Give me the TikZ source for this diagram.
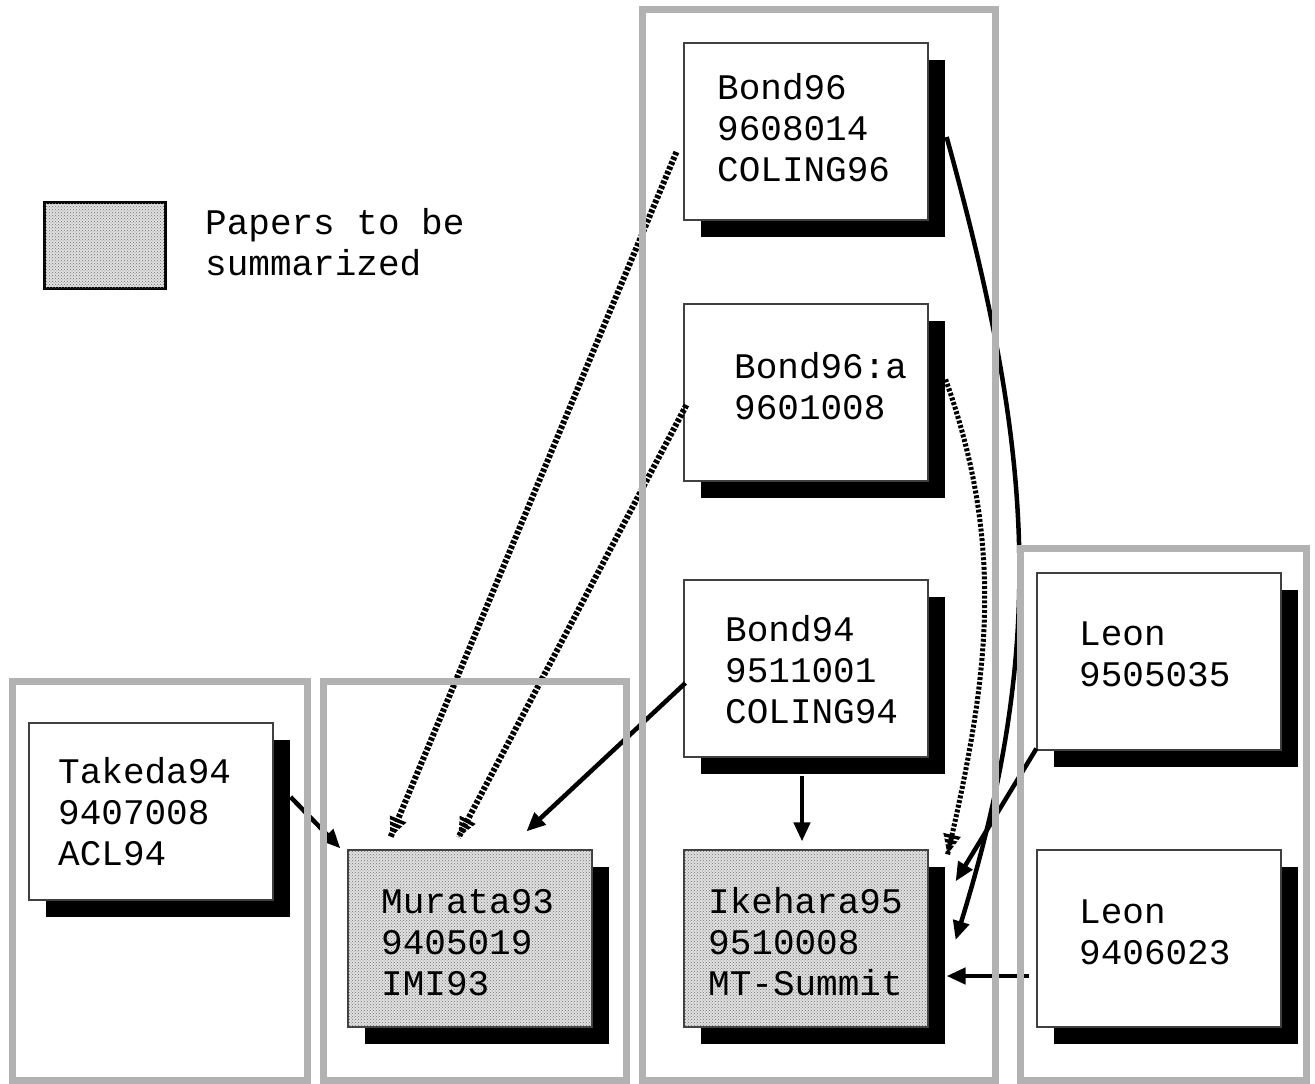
\documentclass[tikz,border=0pt]{standalone}
\usepackage{fontspec}
\newfontfamily\papermono{Liberation Mono}
\usetikzlibrary{arrows.meta,calc,shadows,patterns}

% left-aligned stack of lines whose baseline is the first line
\newcommand\paperlines[1]{\begin{tabular}[t]{@{}l@{}}#1\end{tabular}}

% widened striped head at the end of a striped connector
% #1: point the head points away from, #2: tip point
\newcommand\stripedtip[2]{%
  \begin{scope}
    \coordinate (tipbase) at ($(#2)!20pt!(#1)$);
    \clip (#2) -- ($(tipbase)!9pt!90:(#2)$) -- ($(tipbase)!9pt!-90:(#2)$) -- cycle;
    \draw[stripe, line width=22pt] (tipbase) -- (#2);
  \end{scope}}

\tikzset{
  paper/.style={rectangle, draw=black!75, line width=1.2pt, fill=white,
    minimum width=244pt, minimum height=177pt, inner sep=0pt,
    drop shadow={shadow xshift=17pt, shadow yshift=-17pt, fill=black, opacity=1}},
  summarized/.style={paper, fill=black!12,
    postaction={pattern=crosshatch dots, pattern color=black!55}},
  papertext/.style={anchor=base west, inner sep=0pt,
    font=\papermono\fontsize{36}{41}\selectfont},
  groupframe/.style={draw=black!30, line width=7pt},
  solidarrow/.style={line width=4.5pt, -{Triangle[length=19pt,width=16pt]}},
  stripe/.style={line width=6pt, dash pattern=on 3.4pt off 1.8pt},
  rope/.style={line width=5pt, dash pattern=on 3pt off 1.8pt},
}

\begin{document}
\begin{tikzpicture}[x=1pt,y=-1pt]
\useasboundingbox (0,0) rectangle (1315,1084);

% legend
\node[rectangle, draw=black, line width=3pt, fill=black!12,
      postaction={pattern=crosshatch dots, pattern color=black!55},
      minimum width=121pt, minimum height=86pt, inner sep=0pt] (legend) at (104.5,245) {};
\node[papertext] (legend-t) at (205,234) {\paperlines{Papers to be\\summarized}};

% papers
\node[paper] (takeda) at (151,811.5) {};
\node[papertext] (takeda-t) at (58,783) {\paperlines{Takeda94\\9407008\\ACL94}};

\node[summarized] (murata) at (470,938.5) {};
\node[papertext] (murata-t) at (381,913) {\paperlines{Murata93\\9405019\\IMI93}};

\node[paper] (bond96) at (806,131.5) {};
\node[papertext] (bond96-t) at (717,99) {\paperlines{Bond96\\9608014\\COLING96}};

\node[paper] (bond96a) at (806,392.5) {};
\node[papertext] (bond96a-t) at (734,378) {\paperlines{Bond96:a\\9601008}};

\node[paper] (bond94) at (806,668.5) {};
\node[papertext] (bond94-t) at (725,641) {\paperlines{Bond94\\9511001\\COLING94}};

\node[summarized] (ikehara) at (806,938.5) {};
\node[papertext] (ikehara-t) at (708,913) {\paperlines{Ikehara95\\9510008\\MT-Summit}};

\node[paper] (leon1) at (1159,661.5) {};
\node[papertext] (leon1-t) at (1079,645) {\paperlines{Leon\\9505035}};

\node[paper] (leon2) at (1159,938.5) {};
\node[papertext] (leon2-t) at (1079,923) {\paperlines{Leon\\9406023}};

% connector end points
\coordinate (b96-out)   at ($(bond96.west)+(-7,20.5)$);
\coordinate (mur-in1)   at ($(murata.north west)+(43,-12)$);
\coordinate (b96a-out)  at ($(bond96a.west)+(3,12.5)$);
\coordinate (mur-in2)   at ($(murata.north west)+(111,-12)$);
\coordinate (b94-out)   at ($(bond94.west)+(2,14.5)$);
\coordinate (mur-in3)   at ($(murata.north west)+(179,-18)$);
\coordinate (tak-out)   at ($(takeda.east)+(17,-14.5)$);
\coordinate (mur-in4)   at ($(murata.north west)+(-7,-1)$);
\coordinate (b94-down)  at ($(bond94.south)+(-4,18)$);
\coordinate (ike-top)   at ($(ikehara.north)+(-4,-8)$);
\coordinate (b96a-side) at ($(bond96a.north east)+(17,76)$);
\coordinate (ike-in1)   at ($(ikehara.north east)+(19,5)$);
\coordinate (b96-side)  at ($(bond96.east)+(18,5.5)$);
\coordinate (ike-in2)   at ($(ikehara.east)+(27,1.5)$);
\coordinate (leon1-out) at ($(leon1.south west)+(0,-2)$);
\coordinate (ike-in3)   at ($(ikehara.north east)+(27,32)$);
\coordinate (leon2-out) at ($(leon2.west)+(-7,37.5)$);
\coordinate (ike-in4)   at ($(ikehara.east)+(18,37.5)$);
\coordinate (rope-c2)   at (987,683);

% striped references
\draw[stripe] (b96-out) -- (mur-in1);
\stripedtip{b96-out}{mur-in1}
\draw[stripe] (b96a-out) -- (mur-in2);
\stripedtip{b96a-out}{mur-in2}
\draw[rope] (b96a-side) .. controls (1007,552) and (rope-c2) .. (ike-in1);
\stripedtip{rope-c2}{ike-in1}

% solid references
\draw[solidarrow] (b94-out) -- (mur-in3);
\draw[solidarrow] (tak-out) -- (mur-in4);
\draw[solidarrow] (b94-down) -- (ike-top);
\draw[solidarrow] (b96-side) .. controls (1031,442) and (1050,635) .. (ike-in2);
\draw[solidarrow] (leon1-out) -- (ike-in3);
\draw[solidarrow] (leon2-out) -- (ike-in4);

% group frames
\draw[groupframe] (12,681.5) rectangle (307.5,1080.5);
\draw[groupframe] (323.5,681.5) rectangle (626.5,1080.5);
\draw[groupframe] (642.5,9.5) rectangle (995.5,1080.5);
\draw[groupframe] (1020.5,548) rectangle (1306.5,1080.5);
\end{tikzpicture}
\end{document}
